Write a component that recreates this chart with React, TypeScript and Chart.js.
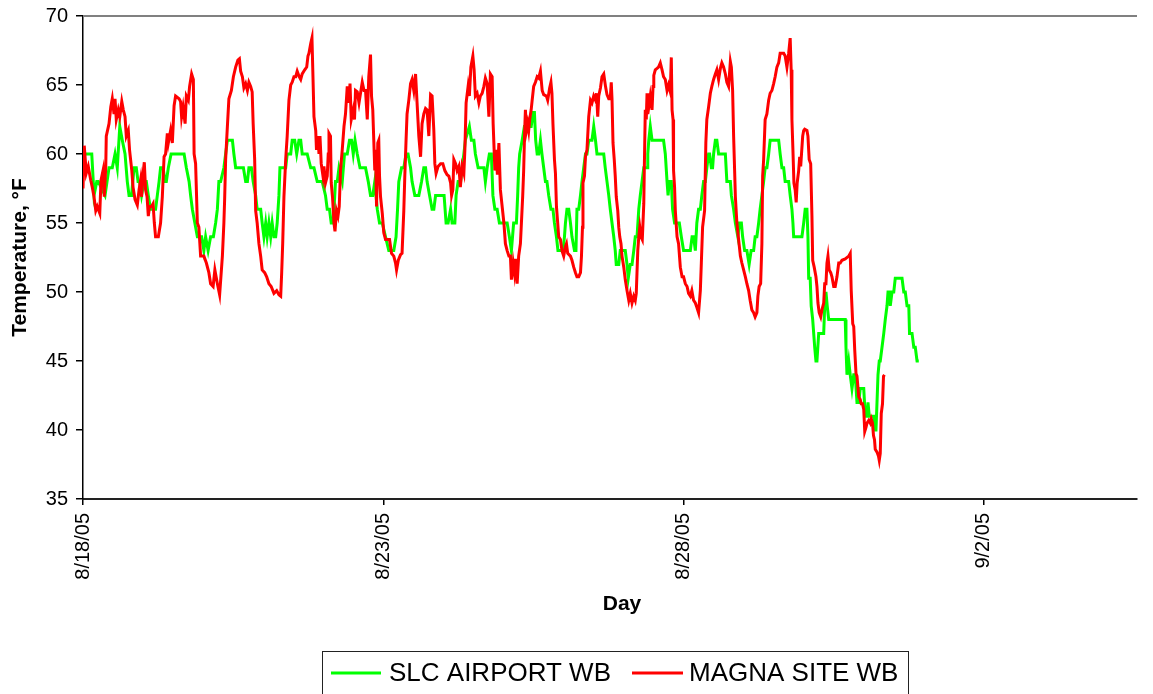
import React, { useEffect, useRef } from "react";
import { Chart, registerables } from "chart.js";

Chart.register(...registerables);

// ---------- DATA ----------
const SERIES_NAMES = ["SLC AIRPORT WB", "MAGNA SITE WB"];
const SERIES_COLORS = ["#00FF00", "#FF0000"];

// x values are hours after 8/18/05 00:00
const X_TICK_HOURS = [0, 120, 240, 360];
const X_TICK_LABELS = ["8/18/05", "8/23/05", "8/28/05", "9/2/05"];
const X_MAX_HOURS = 421.2;

const Y_MIN = 35;
const Y_MAX = 70;
const Y_STEP = 5;

const X_TITLE = "Day";
const Y_TITLE = "Temperature, °F";

// [hour, °F]
const slcAirportWB: [number, number][] = [
  [0,60],[2,60],[3.5,60],[4.4,57],[5.5,58],[6.1,58],[8.8,57],[10.4,59],[11.7,59],[12.8,60],[13.7,59],[14.7,62],[15.7,61],[16.8,60],[17.7,58],[18.4,57],[19.4,57],[20.4,59],[21.3,59],[22,58],[22.6,58],[23.4,57],[24.4,58],[25.3,58],[26.1,57],[27,56],[28,56],[29,56],[29.7,57],[30.4,58],[31,59],[32,59],[32.8,58],[33.3,58],[34.1,59],[35.2,60],[40.4,60],[41.3,59],[42.4,58],[43,57],[43.7,56],[44.7,55],[45.7,54],[47.4,54],[48.3,53],[49,54],[50,53],[51,54],[52.1,54],[53,55],[53.7,56],[54.3,58],
  [55,58],[56.3,59],[57,60],[57.7,61],[59.7,61],[60.3,60],[61,59],[63,59],[64.1,59],[65,58],[65.7,58],[66.3,59],[67.3,59],[68,58],[69,57],[69.6,56],[71,56],[71.6,55],[72.3,54],[73,55],[73.6,54],[74.3,55],[75,54],[75.6,55],[76.3,54],[77,54],[77.6,55],[78.3,57],[78.7,59],[81,59],[81.6,60],[83,60],[83.6,61],[84.6,61],[85.4,60],[86.3,61],[87,61],[87.6,60],[89.6,60],[91,59],[92.3,59],[93.6,58],[95.6,58],[96.9,57],[97.6,56],[98.5,56],[99.2,55],[100,55],[100.9,58],[101.6,58],[102.3,59],[103.6,58],[104.5,60],[105.6,60],[106.5,61],[107.3,61],[108,60],[108.7,61],[109.6,60],[110.7,59],[112.9,59],
  [114,58],[114.9,57],[115.8,57],[116.6,58],[117.6,56],[118.5,55],[119.6,55],[120.9,54],[122.2,53],[124.2,53],[125.1,54],[125.7,56],[126.2,58],[127.3,59],[128.2,59],[129.1,60],[129.9,60],[130.9,59],[131.5,58],[132.6,57],[134.2,57],[135.3,58],[136.2,59],[136.9,59],[137.5,58],[138.5,57],[139.5,56],[140.2,56],[140.9,57],[143.5,57],[144.3,57],[145.1,55],[145.9,55],[146.9,56],[147.5,55],[148.6,55],[149.1,57],[149.9,58],[150.9,58],[151.5,59],[152.2,60],[152.8,61],[154.4,62],[155.2,61],[156.2,61],[156.8,60],[157.9,59],[160.2,59],[160.8,58],[161.5,59],[162.4,60],[163.2,60],[163.8,57],[164.6,56],[165.5,56],[166.4,55],[167.5,55],[169.5,55],[170.4,54],
  [171.2,53],[172.1,55],[173.2,55],[173.7,57],[174.1,59],[174.5,60],[175.5,61],[176.4,62],[178.1,62],[179.1,62],[179.9,63],[180.4,63],[180.9,61],[181.5,60],[182.1,60],[182.8,61],[183.4,60],[184.1,59],[184.8,58],[185.4,58],[186.1,57],[187,56],[187.8,56],[188.4,55],[189.2,54],[189.8,53],[190.8,53],[191.8,53],[192.4,54],[192.8,55],[193.4,56],[194.1,56],[194.8,55],[195.4,54],[196.4,53],[197,53],[197.4,56],[198.1,56],[198.8,57],[199.4,58],[200.1,59],[200.8,60],[201.4,60],[202.1,61],[202.8,61],[203.4,61],[204.1,62],[204.8,61],[205.4,60],[208.1,60],[208.7,59],[209.4,58],[210.1,57],[210.7,56],[211.4,55],[212.1,54],[212.7,53],[213.1,52],[214.1,52],[214.7,53],[216.1,53],[216.7,53],[217.4,52],[217.9,51],[218.7,52],[219.4,52],[220.1,53],[220.7,54],[221.4,54],[222.1,56],[222.7,57],[223.4,58],[224.1,59],[225.4,59],[225.7,60],[226.1,61],[226.7,62],[227.4,61],
  [232,61],[232.7,60],[233.4,58],[233.8,57],[234.3,58],[235.1,58],[235.6,56],[236.4,55],[238.3,55],[239.1,54],[240,53],[241,53],[242,53],[242.7,53],[243.4,54],[244,54],[244.7,53],[245.3,55],[246,56],[246.7,56],[247.3,57],[248,58],[248.7,58],[249.3,59],[250,60],[250.4,60],[251.1,59],[251.6,59],[252,60],[252.7,61],[253.3,61],[254,60],[256.7,60],[257.3,58],[258.7,58],[259.1,57],[260,56],[260.7,55],[261.7,54],[262.3,55],[263.1,55],[263.6,54],[264.4,53],[265.3,53],[266.2,52],[267,53],[268,53],[268.6,54],[269.3,54],[270,55],[270.6,56],[271.3,57],[272,58],[272.6,59],[273.3,59],[274,60],[274.6,61],[275.3,61],[278,61],[278.6,60],[279.3,59],[280,59],[280.6,58],[282,58],[282.6,57],[283.3,56],[283.7,55],[284,54],
  [287.3,54],[288,55],[288.6,56],[289.3,56],[289.7,54],[290,51],[290.6,51],[291,49],[291.6,48],[292.4,46],[292.9,45],[293.3,45],[294,47],[295.3,47],[296,47],[296.4,49],[296.9,50],[297.4,49],[298,48],[304.6,48],[304.9,46],[305.3,44],[306,45],[306.6,44],[307.3,43],[308,44],[308.6,44],[309.3,42],[310,42],[310.6,43],[312,43],[312.6,41],[313.3,41],[313.7,42],[314.2,41],[316,41],[316.3,40],[316.9,40],[317.3,42],[317.7,44],[318.2,45],[318.6,45],[319.3,46],[320,47],[320.6,48],[321.3,49],[321.7,50],[322.2,50],[322.6,49],[323.3,50],[324,50],[324.6,51],[327.3,51],[328,50],[328.6,50],[329.3,49],[330,49],[330.3,47],[331.3,47],[332,46],[332.6,46],[333.3,45],[334,45]
];

// [hour, °F]
const magnaSiteWB: [number, number][] = [
  [0,57.5],[0.5,60.6],[1.3,58.6],[2.1,59.1],[3.1,58.1],[3.7,57.6],[4.4,56.9],[5.1,55.9],[5.7,56.2],[6.7,55.7],[7.2,58.1],[8,58.8],[8.5,56.9],[9.1,59.1],[9.3,61.3],[10.4,62.2],[11.1,63.4],[11.7,64],[12.4,62.9],[12.8,64],[13.3,62.5],[14.1,63.2],[14.7,62.7],[15.5,63.8],[16.1,63.2],[16.8,62.7],[17.3,61.3],[18.1,61.7],[18.6,60.3],[19.5,58.8],[20,57.6],[20.8,56.7],[21.7,56.3],[22.4,57.4],[23,58.1],[23.4,56.9],[24,58.6],[24.5,59.4],[25,57.4],[25.6,56.9],[26.1,55.5],[26.6,56.2],[27.4,56.2],[28,56.4],[28.5,55],[29,54],[30.1,54],[31,55],[31.7,56.9],[32.4,59.8],[33,60],[33.7,61.5],[34.1,60.8],[35,61.7],[35.7,60.8],[36.4,63.5],[37,64.2],[38.4,64],[39,63.8],[39.4,62.7],[40,63.4],[40.8,62.2],[41.3,64.2],[42.1,63.9],[42.6,64.9],[43.4,65.8],[44.1,65.4],[44.4,60],[45,59.3],[45.7,55],[46.3,54.7],[47,52.6],[48.3,52.6],[49.3,52.1],[50.3,51.4],[51,50.6],[52,50.4],[52.7,51.6],[53.7,50.6],[54.6,49.8],
  [55.7,52.6],[56.3,55],[56.6,56.7],[57,59.6],[57.7,62],[58.3,64],[59.3,64.6],[60.1,65.6],[61,66.3],[61.9,66.8],[62.5,66.9],[63,66],[63.7,65.6],[64.3,64.8],[65,65.1],[65.7,64.6],[66.3,65.2],[67,64.9],[67.6,64.5],[68,62.2],[68.6,59.6],[69,55.9],[69.6,55],[70.3,53.5],[71,52.6],[71.6,51.6],[72.6,51.4],[73.4,51.1],[74.3,50.6],[75.2,50.4],[76.3,49.9],[77.4,50.1],[78.3,49.8],[79,49.7],[79.4,51.4],[79.8,53.5],[80.3,56.9],[81,59.6],[81.6,61.3],[82.3,63.9],[83,65],[83.6,65.2],[84.3,65.6],[85,65.6],[85.6,66],[86.4,65.6],[87,65.4],[87.6,65.8],[88.6,66.1],[89.4,66.3],[89.9,67.1],[90.3,67.3],[91,68],[91.5,68.4],[91.9,65.6],[92.3,62.7],[93,61.7],[93.3,60.3],[93.9,61.3],[94.3,60],[94.7,61.3],[95.2,59.3],[95.9,58.4],[96.3,59.1],[96.9,57.9],[97.6,58.4],[98,60],[98.3,61.5],[98.9,61.3],[99.2,57.9],[99.7,56.9],[100.3,55],[100.7,54.4],[101.3,55.9],[101.9,55.5],[102.4,56.2],[102.9,58.8],[103.6,60.3],[104.3,62],[104.9,62.9],[105.6,64.9],[106.3,63.7],[106.7,65.1],[107.2,62.5],[108,63.2],[108.5,62.5],[108.9,64.6],[109.6,64.5],[110.3,63.7],[110.9,64.4],[111.6,65.2],[112.3,64.6],
  [112.9,64.6],[113.6,62.5],[114.2,65.6],[114.9,67.2],[115.3,64.2],[115.8,63.2],[116.2,61],[116.6,58.8],[116.9,60.3],[117.3,56.2],[117.8,60.8],[118.2,61],[118.5,58.4],[118.9,56.9],[119.6,55.7],[120.2,54.3],[120.9,53.8],[122.5,53.8],[123.3,52.8],[124.2,52.6],[124.9,52.1],[125.3,51.6],[126,52.3],[126.9,52.7],[127.5,52.8],[128.2,55.9],[128.6,58.4],[129.1,61],[129.5,62.9],[130.2,63.9],[130.9,65.1],[131.5,65.4],[132.2,64.6],[132.9,65.8],[133.5,63.7],[134.2,61.3],[134.9,59.8],[135.5,62.2],[136.2,62.9],[136.9,63.3],[137.5,63.2],[138.2,61.3],[138.9,64.3],[139.5,64.2],[140.2,61.7],[140.6,59.3],[141.1,58.6],[141.9,59.1],[142.9,59.3],[143.8,59.3],[144.6,58.8],[145.5,58.5],[146.2,58.4],[146.9,57.9],[147.3,57],[147.8,57.4],[148.2,59.6],[148.9,59.3],[149.5,58.8],[150.2,59.1],[150.8,57.6],[151.5,59.1],[152.2,58.6],[152.6,60.3],[153.1,63.7],[153.9,64.9],[154.4,64.2],[155,66.3],[155.8,67.1],[156.3,66.1],[156.8,64.2],[157.5,64.4],[158.2,63.7],[158.8,64.2],[159.5,64.4],[160.2,64.9],[160.8,65.5],[161.5,65.1],[162.2,62.7],[162.8,65.8],[163.5,65.6],[163.9,62.2],[164.6,58.8],[165.1,60.3],[165.6,58.5],[166.2,60.8],[166.8,57.4],[167.5,56.2],[168.2,55],[168.8,53.5],[169.5,53],[170.2,52.6],
  [170.8,52.6],[171.2,50.9],[171.9,52.1],[172.4,51.4],[172.8,52.4],[173.5,50.6],[174.1,52.6],[174.8,53.5],[175.2,55],[175.7,56.9],[176.1,58.8],[176.5,61.7],[176.8,63.2],[177.2,61.7],[177.7,62.2],[178.1,61.7],[178.5,62.5],[179.1,63.2],[179.5,63.9],[180.1,64.9],[180.8,65.2],[181.5,65.6],[182.1,65.5],[182.8,66],[183.5,64.6],[184.1,64.3],[185.2,64.2],[185.7,63.9],[186.5,64.8],[187,65.2],[187.4,64.4],[187.8,62.2],[188.4,59.6],[188.8,58.6],[189.2,56.2],[189.7,55],[190.1,54],[190.8,53.8],[191.4,53],[192.1,52.6],[192.8,53.3],[193.2,53.5],[193.7,52.8],[194.8,52.6],[195.4,52.3],[196.1,51.8],[196.8,51.4],[197.4,51.1],[198.1,51.1],[198.8,51.4],[199.2,52.6],[199.6,54.7],[199.8,57.9],[200.4,58.4],[200.8,59.8],[201.4,60.3],[202.1,62.7],[202.8,63.9],[203.4,63.7],[204.1,64.2],[204.8,63.9],[205.2,64.4],[205.7,62.7],[206.1,64.2],[206.8,64.8],[207.4,65.6],[208.1,65.8],[208.8,64.9],[209.4,64.3],[210.1,64],[210.7,64],[211.1,65.2],[211.4,64],[211.8,60.8],[212.3,59.6],[212.7,58.4],[213.1,56.9],[213.7,55.9],[214.1,54.7],[214.5,54],[215,53.5],[215.4,52.6],[216.1,51.8],[216.7,50.9],[217.4,50.1],[218.1,49.4],[218.7,49.9],[219.4,49.2],[220.1,49.7],[220.7,49.4],[221.1,49.9],[221.7,53],[222.1,54],[222.5,54.7],[223,54],[223.5,53.8],[224.1,56.4],[224.3,58.8],[224.7,63.2],[225.1,62.5],[225.4,64.4],[225.7,62.9],[226.1,63.4],[226.7,64.2],[227.4,63.2],[227.8,64.9],[228.1,65.7],[228.7,66.1],
  [229.4,66.2],[230,66.3],[230.7,66.6],[231.4,66.1],[232,65.6],[232.7,65.4],[233.4,64.6],[234,65],[234.7,64.5],[235.1,67],[235.4,63.2],[235.8,62.5],[236,58.8],[236.4,57.6],[236.7,55.9],[237.4,54],[238,53.5],[238.7,51.8],[239.4,51.1],[240,51.1],[240.7,50.6],[241.4,50.4],[242,49.9],[242.7,49.7],[243.3,50.1],[244,49.4],[244.7,49.2],[245.3,48.9],[246,48.5],[246.7,50.1],[247.1,52.1],[247.6,54.7],[248.4,55.9],[248.9,60.8],[249.3,62.5],[250,63.4],[250.7,64.4],[251.3,64.9],[252,65.4],[252.7,65.8],[253.3,66.1],[254,65.4],[254.7,66.2],[255.3,66.6],[256,66.3],[256.7,65.8],[257.3,65.2],[258,64.9],[258.7,66.7],[259.1,66.3],[259.6,64.6],[260,61.3],[260.4,58.8],[260.7,56.9],[261.3,55],[262,53.8],[262.7,52.6],[263.3,52.1],[264,51.6],[264.7,51.1],[265.3,50.6],[266,50.1],[266.6,49.4],[267.3,48.7],[268,48.5],[268.6,48.2],[269.3,48.5],[269.7,49.7],[270.2,50.4],[270.8,50.6],[271.3,53.5],[271.6,58.4],[272,59.6],[272.6,62.5],[273.3,62.9],[274,63.9],[274.6,64.4],[275.3,64.6],[276,65.1],[276.6,65.6],[277.3,66.3],[278,66.6],[278.6,67.3],[279.3,67.3],[280,67.3],[280.6,67.1],[281.3,66.3],[282,67.3],[282.6,68.4],[283,66.1],[283.3,62.5],[283.7,60.3],[284.1,57.9],[284.6,57.4],[285,56.5],[285.4,57.9],[286,58.8],[286.4,59.8],[286.8,59.1],
  [287.6,61.3],[288,61.7],[288.4,61.8],[289.3,61.7],[289.7,61.3],[290.2,59.6],[290.8,59.3],[291.3,55.5],[291.6,52.3],[292.2,51.8],[292.9,51.1],[293.3,50.4],[293.7,49.2],[294.2,48.5],[294.8,48.2],[295.3,48.7],[296,49.2],[296.4,50.6],[296.9,50.6],[297.3,52.1],[297.7,52.6],[298.2,51.6],[298.8,51.4],[299.3,51.1],[300,50.4],[300.6,50.4],[301.3,51.1],[302,52.1],[302.6,52.1],[303.3,52.3],[304.6,52.4],[306,52.6],[306.6,52.8],[307,50.1],[307.6,47.7],[308,47.5],[308.4,45.8],[308.9,44.1],[309.3,43.9],[310,42.4],[310.6,42.2],[311,41.9],[311.5,41.9],[312,41.5],[312.4,39.9],[312.9,40.2],[313.3,40.5],[314,40.7],[314.6,40.5],[315,40.8],[315.5,40.5],[315.9,39.6],[316.3,39.3],[316.6,38.6],[317.3,38.4],[317.9,38.1],[318.2,37.8],[318.6,38.3],[319,41.2],[319.5,41.9],[319.9,43.9],[320.3,44]
];

// ---------- STYLE ----------
const FONT = "'Liberation Sans', Arial, Helvetica, sans-serif";
const W = 1153;
const H = 694;

export default function App() {
  const canvasRef = useRef<HTMLCanvasElement | null>(null);

  useEffect(() => {
    document.body.style.margin = "0";
    const canvas = canvasRef.current;
    if (!canvas) return;

    const frameAndLegend = {
      id: "frameAndLegend",
      afterDraw(chart: any) {
        const ctx = chart.ctx as CanvasRenderingContext2D;
        const { left, right, top } = chart.chartArea;
        ctx.save();
        // plot-area top border
        ctx.strokeStyle = "#808080";
        ctx.lineWidth = 2;
        ctx.beginPath();
        ctx.moveTo(left, top);
        ctx.lineTo(right, top);
        ctx.stroke();

        // x-axis title (Excel places it slightly right of the plot centre)
        ctx.font = `bold 21px ${FONT}`;
        ctx.fillStyle = "#000";
        ctx.textAlign = "center";
        ctx.textBaseline = "middle";
        ctx.fillText(X_TITLE, 622, 604);

        // legend box
        ctx.strokeStyle = "#222";
        ctx.lineWidth = 1;
        ctx.strokeRect(322.5, 651.5, 586, 60);

        const ly = 673;
        const items = [
          { x0: 331, x1: 381, tx: 389 },
          { x0: 632, x1: 683, tx: 689 },
        ];
        ctx.font = `26px ${FONT}`;
        ctx.textBaseline = "middle";
        ctx.textAlign = "left";
        items.forEach((it, i) => {
          ctx.strokeStyle = SERIES_COLORS[i];
          ctx.lineWidth = 3;
          ctx.beginPath();
          ctx.moveTo(it.x0, ly);
          ctx.lineTo(it.x1, ly);
          ctx.stroke();
          ctx.fillStyle = "#000";
          ctx.fillText(SERIES_NAMES[i], it.tx, ly + 1);
        });
        ctx.restore();
      },
    };

    const chart = new Chart(canvas, {
      type: "line",
      data: {
        datasets: [
          {
            label: SERIES_NAMES[0],
            data: slcAirportWB.map(([x, y]) => ({ x, y })),
            borderColor: SERIES_COLORS[0],
            backgroundColor: SERIES_COLORS[0],
            borderWidth: 3,
            pointRadius: 0,
            tension: 0,
            order: 1,
          },
          {
            label: SERIES_NAMES[1],
            data: magnaSiteWB.map(([x, y]) => ({ x, y })),
            borderColor: SERIES_COLORS[1],
            backgroundColor: SERIES_COLORS[1],
            borderWidth: 3,
            pointRadius: 0,
            tension: 0,
            order: 0,
          },
        ],
      },
      options: {
        animation: false,
        responsive: false,
        devicePixelRatio: 1,
        layout: { padding: { top: 16, right: 16, left: 0, bottom: 0 } },
        plugins: {
          legend: { display: false },
          tooltip: { enabled: false },
        },
        scales: {
          x: {
            type: "linear",
            min: 0,
            max: X_MAX_HOURS,
            afterBuildTicks: (scale: any) => {
              scale.ticks = X_TICK_HOURS.map((v) => ({ value: v }));
            },
            afterFit: (scale: any) => {
              scale.height = 195;
              scale.paddingLeft = 0;
              scale.paddingRight = 0;
            },
            ticks: {
              autoSkip: false,
              minRotation: 90,
              maxRotation: 90,
              padding: 8,
              color: "#000",
              font: { family: FONT, size: 20 },
              callback: (v: any) => {
                const i = X_TICK_HOURS.indexOf(Number(v));
                return i >= 0 ? X_TICK_LABELS[i] : "";
              },
            },
            grid: {
              display: true,
              drawOnChartArea: false,
              drawTicks: true,
              tickLength: 6,
              color: "#000",
              lineWidth: 1.5,
            },
            border: { display: true, color: "#222", width: 2 },
            title: { display: false },
          },
          y: {
            type: "linear",
            min: Y_MIN,
            max: Y_MAX,
            afterFit: (scale: any) => {
              scale.width = 83;
              scale.paddingTop = 0;
              scale.paddingBottom = 0;
            },
            ticks: {
              stepSize: Y_STEP,
              padding: 8,
              color: "#000",
              font: { family: FONT, size: 20 },
            },
            grid: {
              display: true,
              drawOnChartArea: false,
              drawTicks: true,
              tickLength: 7,
              color: "#000",
              lineWidth: 1.5,
            },
            border: { display: true, color: "#000", width: 1.5 },
            title: {
              display: true,
              text: Y_TITLE,
              color: "#000",
              font: { family: FONT, size: 21, weight: "bold" },
              padding: { top: 7.5, bottom: 0 },
            },
          },
        },
      },
      plugins: [frameAndLegend],
    } as any);

    return () => chart.destroy();
  }, []);

  return (
    <div style={{ width: W, height: H, position: "relative", background: "#fff" }}>
      <canvas ref={canvasRef} width={W} height={H} style={{ display: "block" }} />
    </div>
  );
}
